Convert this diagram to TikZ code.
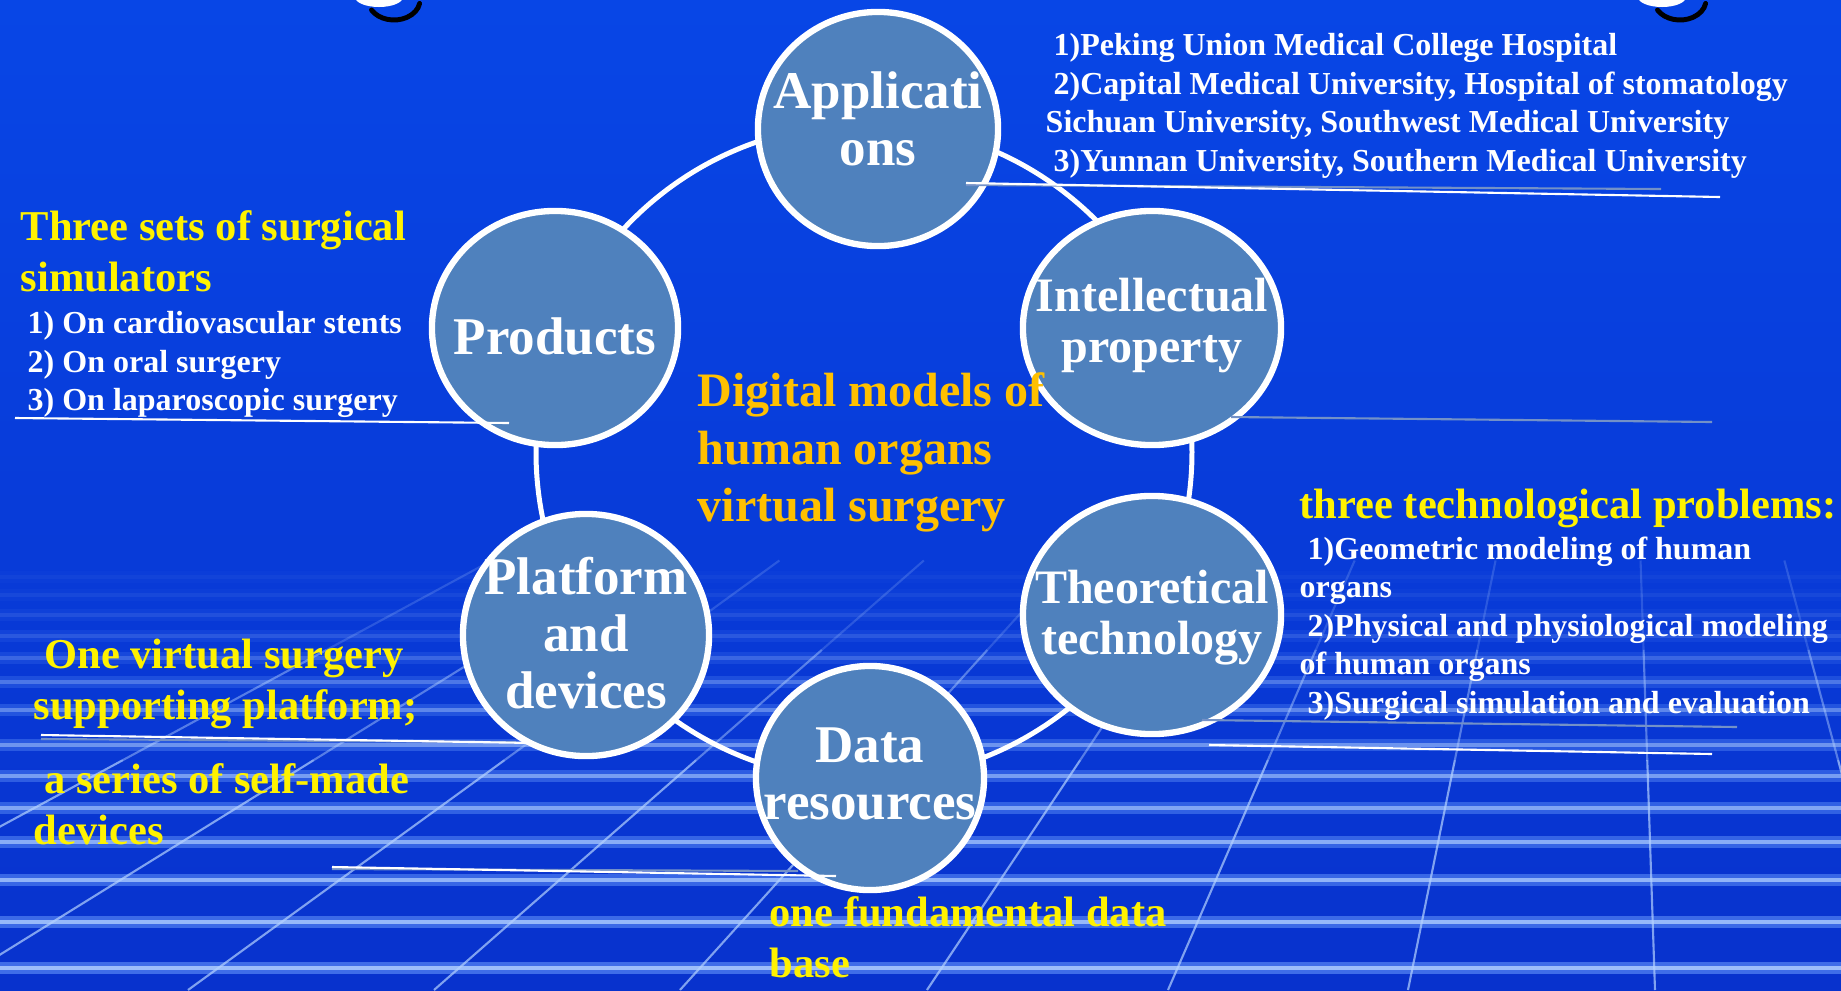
\documentclass[tikz,border=0pt]{standalone}
\usepackage{fontspec}
\setmainfont{Liberation Serif}
\usetikzlibrary{shapes.geometric}
\usetikzlibrary{calc}

\definecolor{bgtop}{RGB}{8,70,230}
\definecolor{bgmid}{RGB}{0,78,242}
\definecolor{bgbot}{RGB}{8,50,205}
\definecolor{gridglow}{RGB}{110,160,255}
\definecolor{gridcore}{RGB}{180,210,255}
\definecolor{bubblefill}{RGB}{79,129,189}
\definecolor{ulgray}{RGB}{115,145,200}
\definecolor{goldtext}{RGB}{255,192,0}

\tikzstyle{bubble}=[ellipse,fill=bubblefill,draw=white,line width=1.8pt,inner sep=0pt]
\tikzstyle{bubbletext}=[text=white,font=\bfseries\fontsize{15.08}{16.22}\selectfont,align=center,inner sep=0pt,anchor=north]
\tikzstyle{smallbubbletext}=[bubbletext,font=\bfseries\fontsize{13.66}{14.65}\selectfont]
\tikzstyle{ring}=[white,line width=1.42pt]
\tikzstyle{yellowhead}=[text=yellow,font=\bfseries\fontsize{12.09}{14.51}\selectfont,align=left,anchor=north west,inner sep=0pt]
\tikzstyle{whitelist}=[text=white,font=\bfseries\fontsize{9.10}{10.95}\selectfont,align=left,anchor=north west,inner sep=0pt]
\tikzstyle{centertext}=[text=goldtext,font=\bfseries\fontsize{13.66}{16.36}\selectfont,align=left,anchor=north west,inner sep=0pt]
\tikzstyle{underline}=[white,line width=0.6pt]
\tikzstyle{grayline}=[ulgray,line width=0.6pt]

\begin{document}
\begin{tikzpicture}[x=0.01cm,y=-0.01cm]
\useasboundingbox (0,0) rectangle (1841,990);
\clip (0,0) rectangle (1841,990);

%Background
\shade[top color=bgtop, middle color=bgmid, bottom color=bgbot] (0,0) rectangle (1841,990);

%Floor grid
    \coordinate (vp) at (1620,-50);
    \foreach \y/\op in {577/0.05, 595/0.08, 615/0.12, 636/0.17, 658/0.25, 682/0.35, 710/0.45, 745/0.55, 776/0.62, 808/0.68, 842/0.74, 880/0.8, 922/0.85, 968/0.9}
    {
        \draw[gridglow, line width=3.4pt, opacity=0.6*\op] (0,\y) -- (1841,\y);
        \draw[gridcore, line width=0.9pt, opacity=0.9*\op] (0,\y) -- (1841,\y);
    }
    \foreach \xb in {-302,-57,188,434,680,927,1168,1408,1655,1900,2150}
    {
        \coordinate (b) at (\xb,990);
        \draw[gridcore, line width=0.6pt, opacity=0.7] (b) -- ($(b)!0.221!(vp)$);
        \draw[gridcore, line width=0.6pt, opacity=0.45] ($(b)!0.221!(vp)$) -- ($(b)!0.327!(vp)$);
        \draw[gridcore, line width=0.6pt, opacity=0.2] ($(b)!0.327!(vp)$) -- ($(b)!0.413!(vp)$);
    }

%Rings at the top edge
    \foreach \wx/\bx in {379/394, 1662/1680}
    {
        \fill[white] (\wx,-3) ellipse [x radius=24, y radius=10];
        \draw[black, line width=1.4pt, line cap=round] (\bx-22.5,10) arc [start angle=150, end angle=10, x radius=26, y radius=20];
    }

%Big ring
\draw[ring] (864,452) circle [radius=328];

%Circles
    \foreach \pos/\name/\w/\h in {{(878,129)}/app/2.40/2.34, {(555,328)}/prod/2.46/2.34, {(1152,328)}/ip/2.58/2.34, {(1152,615)}/theo/2.58/2.38, {(586,635)}/plat/2.46/2.42, {(870,778)}/data/2.28/2.24}
        \node[bubble, minimum width=\w cm, minimum height=\h cm] (\name) at \pos {};

\node[bubbletext] (apptext) at ($(app.center)+(0,-58)$) {Applicati\\ons};
\node[bubbletext] (prodtext) at ($(prod.center)+(0,-11)$) {Products};
\node[smallbubbletext] (iptext) at ($(ip.center)+(0,-51)$) {Intellectual\\property};
\node[smallbubbletext] (theotext) at ($(theo.center)+(0,-46)$) {Theoretical\\technology};
\node[bubbletext] (plattext) at ($(plat.center)+(0,-79)$) {Platform\\and\\devices};
\node[bubbletext] (datatext) at ($(data.center)+(0,-51)$) {Data\\resources};

%Underlines
  \foreach \a/\b in {{(966,185)}/{(1661,189)}, {(1231,417)}/{(1712,422)}, {(1202,720)}/{(1737,727)}, {(41,739)}/{(516,742)}, {(332,869)}/{(798,871)}}
          \draw[grayline] \a -- \b;
  \foreach \a/\b in {{(966,183)}/{(1720,197)}, {(15,418)}/{(509,423)}, {(1209,745)}/{(1712,754)}, {(41,735)}/{(534,743)}, {(332,867)}/{(836,876)}}
          \draw[underline] \a -- \b;

%Texts
\node[centertext] (center) at (697,372) {Digital models of\\human organs\\virtual surgery};

\node[whitelist] (hospitals) at (1045,33) {~1)Peking Union Medical College Hospital\\~2)Capital Medical University, Hospital of stomatology\\Sichuan University, Southwest Medical University\\~3)Yunnan University, Southern Medical University};

\node[yellowhead] (simhead) at (20,210) {Three sets of surgical\\simulators};
\node[whitelist] (simlist) at (19,311) {~1) On cardiovascular stents\\~2) On oral surgery\\~3) On laparoscopic surgery};

\node[yellowhead] (probhead) at (1299,488) {three technological problems:};
\node[whitelist] (problist) at (1299,536) {~1)Geometric modeling of human\\organs\\~2)Physical and physiological modeling\\of human organs\\~3)Surgical simulation and evaluation};

\node[yellowhead] (platformtext) at (33,638) {~One virtual surgery\\supporting platform;};
\node[yellowhead] (devicestext) at (33,763) {~a series of self-made\\devices};
\node[yellowhead] (basetext) at (769,896) {one fundamental data\\base};

\end{tikzpicture}
\end{document}
